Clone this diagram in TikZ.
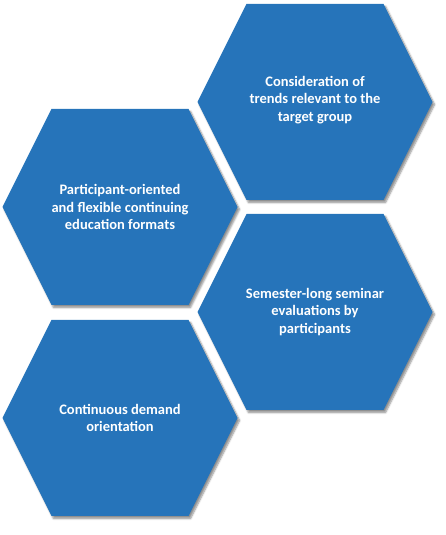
\documentclass[tikz,border=0pt]{standalone}
\usepackage{fontspec}
\setmainfont{Carlito}
\usepackage{tikz}
\definecolor{hexblue}{RGB}{38, 116, 186}
\usetikzlibrary{calc,shadows,shadows.blur}

\tikzset{
  hexfill/.style={fill=hexblue, blur shadow={shadow xshift=2pt, shadow yshift=-2.5pt, shadow blur steps=6, shadow opacity=45}},
  hexlabel/.style={text=white, align=center, font=\fontsize{14.5}{17.7}\selectfont\bfseries}
}
% hexagon with flat top and bottom round a centre
\newcommand{\hexat}[1]{\path[hexfill] ($(#1)+(-117.5,0)$) -- ++(49,98) -- ++(137,0) -- ++(49,-98) -- ++(-49,-98) -- ++(-137,0) -- cycle;}

\begin{document}
\begin{tikzpicture}[x=1pt, y=1pt]
    \useasboundingbox (0,0) rectangle (445,535);
    \coordinate (c1) at (315,433);
    \coordinate (c2) at (120,328);
    \coordinate (c3) at (315,223);
    \coordinate (c4) at (120,117);

    \foreach \c in {c1,c2,c3,c4} {\hexat{\c}}

    \node[hexlabel] (trends) at ($(c1)+(0,2)$) {Consideration of\\trends relevant to the\\target group};
    \node[hexlabel] (flexible) at (c2) {Participant-oriented\\and flexible continuing\\education formats};
    \node[hexlabel] (evals) at (c3) {Semester-long seminar\\evaluations by\\participants};
    \node[hexlabel] (demand) at (c4) {Continuous demand\\orientation};
\end{tikzpicture}
\end{document}
